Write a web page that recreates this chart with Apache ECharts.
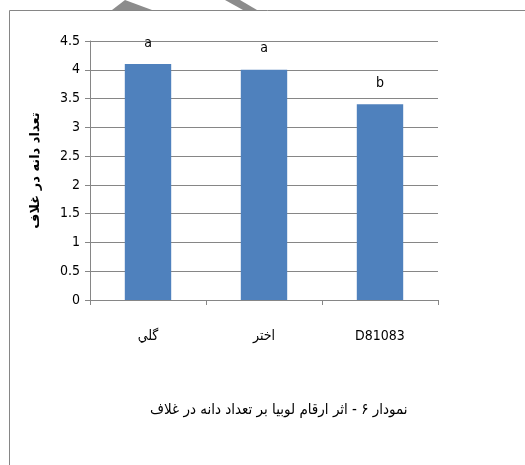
<!DOCTYPE html>
<html>
<head>
<meta charset="utf-8">
<script src="https://cdn.jsdelivr.net/npm/echarts@6/dist/echarts.min.js"></script>
<style>
  html, body { margin: 0; padding: 0; background: #fff; }
  #chart { width: 525px; height: 465px; }
</style>
</head>
<body>
<div id="chart"></div>
<script>
// داده ها
var categories = ['گلي', 'اختر', 'D81083'];
var values = [4.1, 4.0, 3.4];
var letters = ['a', 'a', 'b'];

var axisFont = '"DejaVu Sans Condensed", "Liberation Sans Narrow", sans-serif';
var grey = '#868686';

var chart = echarts.init(document.getElementById('chart'));

var option = {
    backgroundColor: '#fff',
    animation: false,
    grid: {
        left: 90,
        right: 87,
        top: 41,
        bottom: 165
    },
    xAxis: [
        {
            type: 'category',
            data: categories,
            axisLine: {lineStyle: {color: grey, width: 1}},
            axisTick: {show: true, length: 5, lineStyle: {color: grey}},
            axisLabel: {
                color: '#000',
                fontSize: 14,
                fontFamily: axisFont,
                margin: 29
            }
        }
    ],
    yAxis: [
        {
            type: 'value',
            min: 0,
            max: 4.5,
            interval: 0.5,
            name: 'تعداد دانه در غلاف',
            nameLocation: 'middle',
            nameGap: 48,
            nameTextStyle: {
                color: '#000',
                fontSize: 13,
                fontWeight: 'bold',
                fontFamily: 'DejaVu Sans'
            },
            axisLine: {show: true, lineStyle: {color: grey}},
            axisTick: {show: true, length: 5, lineStyle: {color: grey}},
            axisLabel: {
                color: '#000',
                fontSize: 14,
                fontFamily: axisFont,
                margin: 10
            },
            splitLine: {show: true, lineStyle: {color: grey}}
        }
    ],
    series: [
        {
            type: 'bar',
            data: values,
            barWidth: '40%',
            itemStyle: {color: '#4f81bd'},
            label: {
                show: true,
                position: 'top',
                distance: 14,
                color: '#000',
                fontSize: 14,
                fontFamily: axisFont,
                formatter: function (p) {
                    return letters[p.dataIndex];
                }
            }
        }
    ],
    graphic: [
        // frame
        {type: 'line', shape: {x1: 9.5, y1: 10.5, x2: 525, y2: 10.5}, style: {stroke: grey, lineWidth: 1}},
        {type: 'line', shape: {x1: 9.5, y1: 10.5, x2: 9.5, y2: 465}, style: {stroke: grey, lineWidth: 1}},
        {type: 'polygon', shape: {points: [[112, 10], [125, 0], [152, 10]]}, style: {fill: '#8c8c8c'}},
        {type: 'polygon', shape: {points: [[225, 0], [240, 0], [257, 10], [243, 10]]}, style: {fill: '#8c8c8c'}},
        {
            type: 'text',
            left: 150,
            top: 403,
            style: {
                text: 'نمودار ۶ - اثر ارقام لوبیا بر تعداد دانه در غلاف',
                fontSize: 15,
                fontFamily: 'DejaVu Sans Condensed',
                fill: '#000'
            }
        }
    ]
};

chart.setOption(option);
</script>
</body>
</html>
